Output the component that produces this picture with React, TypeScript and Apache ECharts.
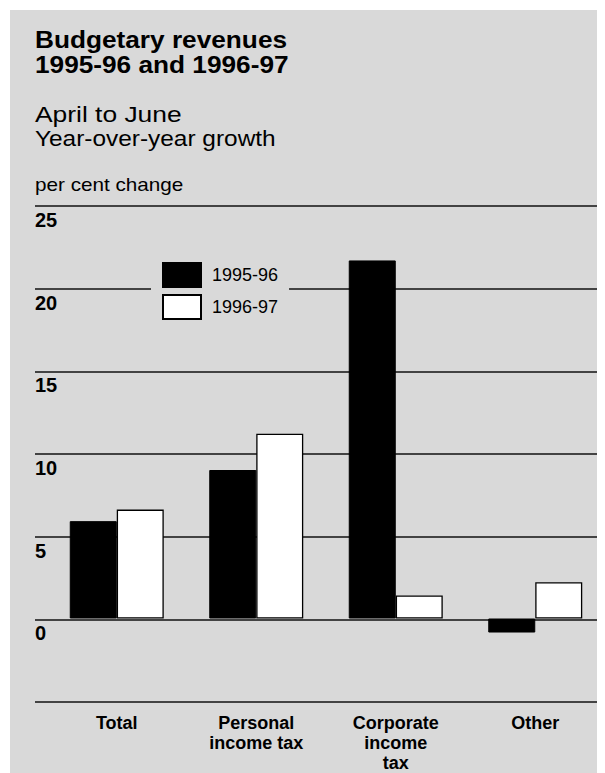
import React, { useEffect, useRef } from "react";
import * as echarts from "echarts";

const categories = ["Total", "Personal\nincome tax", "Corporate\nincome\ntax", "Other"];
const series1995 = [5.9, 9.0, 21.7, -0.85];
const series1996 = [6.6, 11.2, 1.4, 2.2];
const seriesNames = ["1995-96", "1996-97"];
const yMin = -5;
const yMax = 25;
const yStep = 5;

const FONT = '"Liberation Sans", Arial, Helvetica, sans-serif';
const BG = "#d9d9d9";

export default function App() {
  const ref = useRef<HTMLDivElement>(null);
  useEffect(() => {
    if (!ref.current) return;
    const chart = echarts.init(ref.current, undefined, { renderer: "svg" });
    const titleLine = (text: string, y: number, size: number, bold: boolean, sx: number) => ({
      type: "text",
      x: 25,
      y,
      scaleX: sx,
      z: 10,
      style: {
        text,
        font: `${bold ? "bold " : ""}${size}px ${FONT}`,
        fill: "#000",
        verticalAlign: "middle",
        align: "left",
      },
    });
    chart.setOption({
      animation: false,
      backgroundColor: BG,
      textStyle: { fontFamily: FONT },
      graphic: [
        titleLine("Budgetary revenues", 30, 23, true, 1.14),
        titleLine("1995-96 and 1996-97", 55, 23, true, 1.14),
        titleLine("April to June", 104, 22, false, 1.2),
        titleLine("Year-over-year growth", 128, 22, false, 1.11),
        titleLine("per cent change", 175, 18, false, 1.15),
      ],
      legend: {
        data: seriesNames,
        orient: "vertical",
        left: 141,
        top: 246,
        backgroundColor: BG,
        padding: [6, 11, 6, 11],
        itemWidth: 38,
        itemHeight: 24,
        itemGap: 6,
        icon: "rect",
        textStyle: { fontSize: 18, color: "#000", fontFamily: FONT, padding: [0, 0, 0, 6] },
        z: 5,
      },
      grid: [
        { left: 25, top: 196, width: 562, height: 496 },
        { left: 37, top: 196, width: 561, height: 496 },
      ],
      xAxis: [
        { type: "value", gridIndex: 0, min: 0, max: 1, show: false },
        {
          type: "category",
          gridIndex: 1,
          data: categories,
          axisLine: { show: false },
          axisTick: { show: false },
          axisLabel: {
            fontSize: 18,
            fontWeight: "bold",
            color: "#000",
            lineHeight: 20,
            margin: 12,
            fontFamily: FONT,
            interval: 0,
          },
        },
      ],
      yAxis: [
        {
          type: "value",
          gridIndex: 0,
          min: yMin,
          max: yMax,
          interval: yStep,
          axisLine: { show: false },
          axisTick: { show: false },
          splitLine: { show: true, lineStyle: { color: "#111", width: 1.5 } },
          axisLabel: {
            inside: true,
            margin: 0,
            align: "left",
            verticalAlign: "top",
            fontSize: 20,
            fontWeight: "bold",
            lineHeight: 20,
            padding: [4, 0, 0, 0],
            color: "#000",
            fontFamily: FONT,
            formatter: (v: number) => (v === yMin ? "" : String(v)),
          },
        },
        {
          type: "value",
          gridIndex: 1,
          min: yMin,
          max: yMax,
          interval: yStep,
          show: false,
          splitLine: { show: false },
        },
      ],
      series: [
        {
          name: seriesNames[0],
          type: "bar",
          xAxisIndex: 1,
          yAxisIndex: 1,
          data: series1995,
          barWidth: 47,
          barGap: "0%",
          itemStyle: { color: "#000", borderColor: "#000", borderWidth: 1 },
          z: 3,
        },
        {
          name: seriesNames[1],
          type: "bar",
          xAxisIndex: 1,
          yAxisIndex: 1,
          data: series1996,
          barWidth: 47,
          barGap: "0%",
          itemStyle: { color: "#fff", borderColor: "#000", borderWidth: 1.3 },
          z: 3,
        },
      ],
    });
    return () => chart.dispose();
  }, []);
  return (
    <div style={{ paddingLeft: 2, paddingTop: 2 }}>
      <div ref={ref} style={{ width: 595, height: 763 }} />
    </div>
  );
}
